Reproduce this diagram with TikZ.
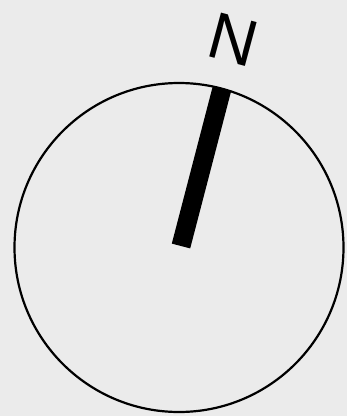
\documentclass[tikz,border=0pt]{standalone}
\usepackage{fontspec}
\setsansfont{Liberation Sans}
\usepackage{xcolor}
\definecolor{paper}{HTML}{EBEBEB}
\usetikzlibrary{calc}

\begin{document}
\begin{tikzpicture}[x=1pt, y=-1pt,
      dial/.style={draw, line width=2.2pt},
      needle/.style={line width=19pt, line cap=butt},
      northlabel/.style={font=\sffamily\fontsize{66}{66}\selectfont, rotate=-15, inner sep=0pt}
    ]
    \fill[paper] (0,0) rectangle (347,416);
    \useasboundingbox (0,0) rectangle (347,416);
    \coordinate (c) at (179,247.5);
    \coordinate (tip) at ($(c)+(43,-159)$);
    \draw[dial] (c) circle (164.5);
    \draw[needle] (181,246) -- (tip);
    \node[northlabel] (north) at (233,40) {N};
  \end{tikzpicture}
\end{document}
